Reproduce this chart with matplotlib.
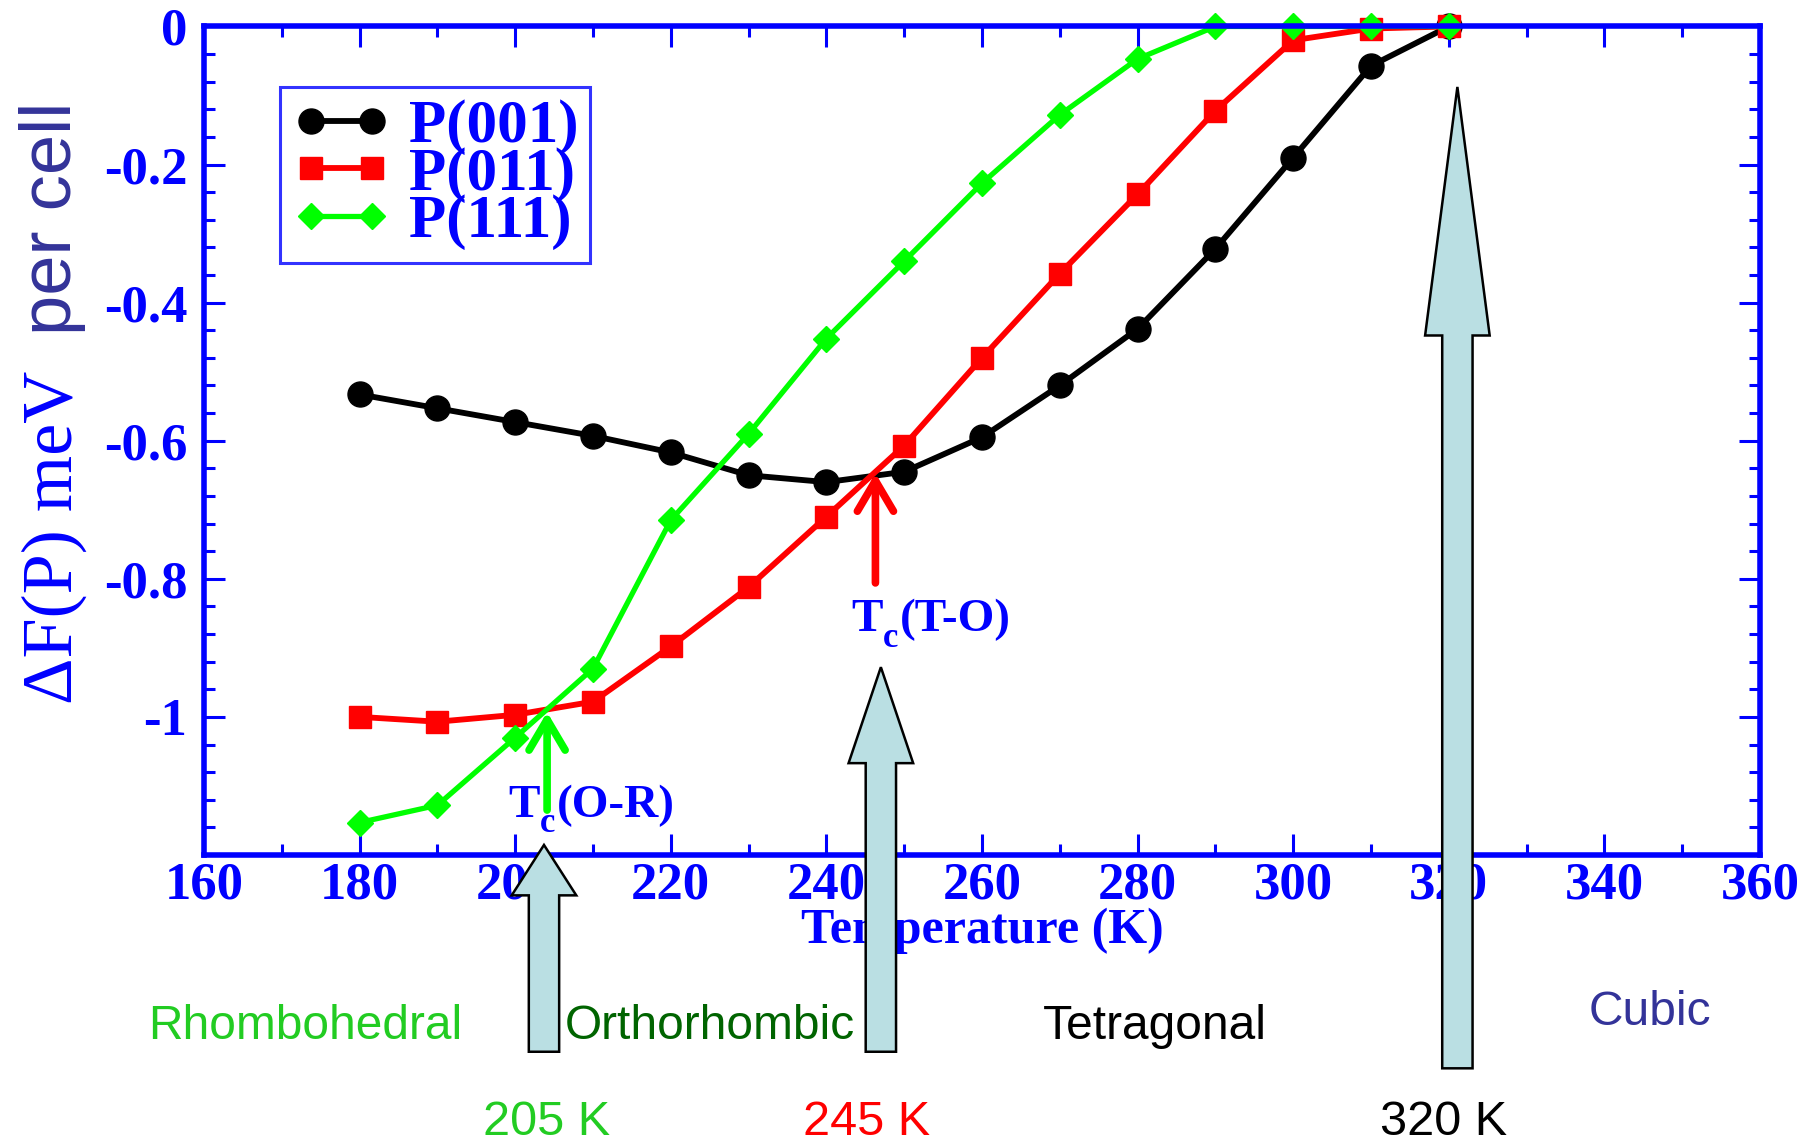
import matplotlib
matplotlib.use('Agg')
import matplotlib.pyplot as plt
from matplotlib.patches import FancyArrow
from matplotlib.ticker import MultipleLocator, FixedLocator, FixedFormatter

# Energie libre en fonction de la temperature pour les trois directions de P
temperatures = [180, 190, 200, 210, 220, 230, 240, 250, 260, 270, 280, 290, 300, 310, 320]
df_001 = [-0.533, -0.553, -0.573, -0.593, -0.617, -0.650, -0.660, -0.645, -0.595, -0.520,
          -0.438, -0.322, -0.190, -0.057, 0.0]
df_011 = [-1.000, -1.007, -0.997, -0.978, -0.898, -0.812, -0.710, -0.607, -0.480, -0.358,
          -0.243, -0.122, -0.020, -0.003, 0.0]
df_111 = [-1.153, -1.128, -1.030, -0.930, -0.715, -0.590, -0.452, -0.340, -0.227, -0.128,
          -0.047, 0.0, 0.0, 0.0, 0.0]

# Ticks de l'axe y
yticks = [0, -0.2, -0.4, -0.6, -0.8, -1.0]
ylabels = ['0', '-0.2', '-0.4', '-0.6', '-0.8', '-1']

# Transitions de phase
tc_x = [203.7, 247.0, 321.1]
tc_labels = ['205 K', '245 K', '320 K']
tc_label_x = [204.0, 245.2, 319.3]
tc_colors = ['#22cc22', '#ff0000', '#000000']

phases = ['Rhombohedral', 'Orthorhombic', 'Tetragonal', 'Cubic']
phases_x = [173.0, 225.0, 282.2, 345.9]
phases_y = [-1.449, -1.449, -1.449, -1.428]
phases_colors = ['#22cc22', '#006400', '#000000', '#333399']

bleu = '#0000ff'
serif = 'Liberation Serif'
sans = 'Liberation Sans'

fig = plt.figure(figsize=(18.1, 11.45), dpi=100)
ax = fig.add_axes([0.1127, 0.2533, 0.8597, 0.7236])

ax.plot(temperatures, df_001, '-o', color='black', lw=4.2, ms=18, label='P(001)', clip_on=False, zorder=2)
ax.plot(temperatures, df_011, '-s', color='#ff0000', lw=4.2, ms=16, label='P(011)', clip_on=False, zorder=2)
ax.plot(temperatures, df_111, '-D', color='#00ff00', lw=3.8, ms=13, label='P(111)', clip_on=False, zorder=2)

ax.set_xlim(160, 360)
ax.set_ylim(-1.2, 0)
ax.xaxis.set_major_locator(MultipleLocator(20))
ax.xaxis.set_minor_locator(MultipleLocator(10))
ax.yaxis.set_major_locator(FixedLocator(yticks))
ax.yaxis.set_major_formatter(FixedFormatter(ylabels))
ax.yaxis.set_minor_locator(MultipleLocator(0.04))

for s in ax.spines.values():
    s.set_color(bleu)
    s.set_linewidth(4)
ax.tick_params(which='both', direction='in', top=True, right=True, color=bleu, width=2.2)
ax.tick_params(which='major', length=15)
ax.tick_params(which='minor', length=8)
ax.tick_params(axis='x', which='major', pad=5)
ax.tick_params(axis='y', which='major', pad=12)
for lab in ax.get_xticklabels() + ax.get_yticklabels():
    lab.set_fontfamily(serif)
    lab.set_fontweight('bold')
    lab.set_fontsize(38)
    lab.set_color(bleu)

ax.set_xlabel('Temperature (K)', fontfamily=serif, fontweight='bold', fontsize=36, color=bleu, va='center')
ax.xaxis.set_label_coords(0.5, -0.091)

# Titre de l'axe y en deux morceaux
fig.text(0.0395, 0.385, 'ΔF(P) meV', rotation=90, rotation_mode='anchor', ha='left', va='baseline',
         fontfamily=serif, fontsize=52, color=bleu)
fig.text(0.0395, 0.7075, 'per cell', rotation=90, rotation_mode='anchor', ha='left', va='baseline',
         fontfamily=sans, fontsize=52, color='#333399')

leg = ax.legend(loc='upper left', bbox_to_anchor=(0.049, 0.927), borderaxespad=0, numpoints=2,
                handlelength=1.6, handletextpad=0.3, labelspacing=-0.14, borderpad=0.2,
                fancybox=False, prop={'family': serif, 'weight': 'bold', 'size': 44})
leg.get_frame().set_edgecolor(bleu)
leg.get_frame().set_linewidth(2.2)
for t in leg.get_texts():
    t.set_color(bleu)

# Petites fleches aux croisements
ax.annotate('', xy=(204.1, -0.993), xytext=(204.1, -1.135),
            arrowprops=dict(arrowstyle='->,head_length=2.2,head_width=1.3', color='#00ff00', lw=5.5,
                            shrinkA=0, shrinkB=0), zorder=4)
ax.annotate('', xy=(246.3, -0.647), xytext=(246.3, -0.806),
            arrowprops=dict(arrowstyle='->,head_length=2.2,head_width=1.3', color='#ff0000', lw=5.5,
                            shrinkA=0, shrinkB=0), zorder=4)


def tc_label(x, y, suffix):
    # T, indice c abaisse, puis le nom de la transition
    style = dict(fontfamily=serif, fontweight='bold', color=bleu, va='baseline', ha='left', zorder=3,
                 textcoords='offset points')
    ax.annotate('T', xy=(x, y), xytext=(0, 0), fontsize=34, **style)
    ax.annotate('c', xy=(x, y), xytext=(23, -11), fontsize=25, **style)
    ax.annotate(suffix, xy=(x, y), xytext=(35, 0), fontsize=34, **style)


tc_label(199.1, -1.145, '(O-R)')
tc_label(243.2, -0.876, '(T-O)')

# Grandes fleches des transitions
arrow_specs = [(tc_x[0], -1.485, -1.1855, 0.073),
               (tc_x[1], -1.485, -0.928, 0.139),
               (tc_x[2], -1.509, -0.0876, 0.360)]
for x, y0, y1, hl in arrow_specs:
    arr = FancyArrow(x, y0, 0, y1 - y0, width=3.9, head_width=8.3, head_length=hl,
                     length_includes_head=True, facecolor='#badfe3', edgecolor='black',
                     linewidth=1.8, clip_on=False, zorder=6)
    ax.add_patch(arr)

for name, x, y, c in zip(phases, phases_x, phases_y, phases_colors):
    ax.text(x, y, name, fontfamily=sans, fontsize=34.5, color=c, ha='center', va='center', clip_on=False)
for lab, x, c in zip(tc_labels, tc_label_x, tc_colors):
    ax.text(x, -1.588, lab, fontfamily=sans, fontsize=35, color=c, ha='center', va='center', clip_on=False)

fig.savefig('out.png', dpi=100)
